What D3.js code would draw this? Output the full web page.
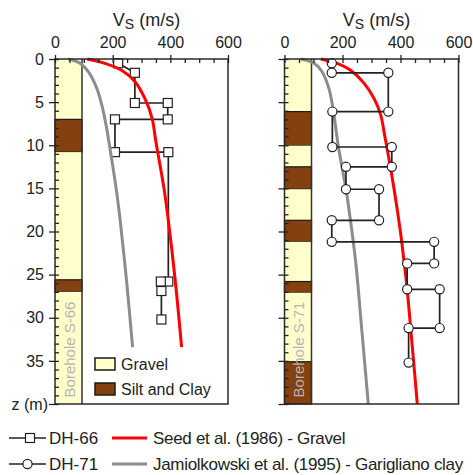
<!DOCTYPE html>
<html>
<head>
<meta charset="utf-8">
<script src="https://cdn.jsdelivr.net/npm/d3@7/dist/d3.min.js"></script>
<style>
  html, body { margin: 0; padding: 0; background: #fff; }
  svg { display: block; font-family: "Liberation Sans", Arial, sans-serif; }
</style>
</head>
<body>
<svg id="chart" width="473" height="475"></svg>
<script>
// Shear-wave velocity axis (m/s) and depth axis (m)
const vsTicks = [0, 200, 400, 600];
const vsMinorTicks = d3.range(0, 601, 50);
const zTicks = [0, 5, 10, 15, 20, 25, 30, 35, 40];
const zMinorTicks = d3.range(0, 41, 1);
const zLabelAtBottom = "z (m)";

// Down-hole profile DH-66: [Vs, z]
const dh66 = [[219, 0.5], [277, 1.6], [277, 5.1], [391, 5.1], [391, 7.0], [208, 7.0],
              [208, 10.8], [393, 10.8], [393, 25.8], [367, 25.8], [369, 26.9], [369, 30.2]];

// Down-hole profile DH-71: [Vs, z]
const dh71 = [[163, 0.5], [163, 1.6], [358, 1.6], [358, 6.1], [165, 6.1], [165, 10.2],
              [370, 10.2], [370, 12.5], [212, 12.5], [212, 15.1], [326, 15.1], [326, 18.7],
              [163, 18.7], [163, 21.2], [516, 21.2], [516, 23.7], [423, 23.7], [423, 26.7],
              [535, 26.7], [535, 31.2], [428, 31.2], [428, 35.2]];

// Seed et al. (1986) gravel curve, as drawn next to each borehole: [Vs, z]
const seedGravel66 = [[112, 0], [173, 0.5], [231, 1.3], [277, 2.6], [312, 4.6], [337, 6.9],
                      [349, 9.4], [378, 15], [393, 18.7], [418, 26], [439, 33.4]];
const seedGravel71 = [[125, 0], [182, 0.5], [228, 1.3], [274, 2.8], [309, 4.6], [332, 6.5],
                      [345, 8.8], [353, 10.2], [378, 15.1], [400, 20.1], [413, 23.7],
                      [423, 26.7], [435, 31.2], [458, 40]];

// Jamiolkowski et al. (1995) Garigliano clay curve: [Vs, z]
const jamClay66 = [[46, 0], [87, 0.5], [116, 1.5], [145, 3.4], [162, 5.3], [179, 8.0],
                   [186, 9.4], [212, 15], [226, 18.7], [249, 26], [269, 33.4]];
const jamClay71 = [[56, 0], [102, 0.5], [130, 1.5], [153, 3.4], [165, 5.3], [174, 7.3],
                   [186, 10.2], [212, 15.1], [233, 20.1], [247, 24], [266, 31.2], [289, 40]];

// Borehole logs: [top z, bottom z, soil]
const logS66 = [[0, 7.0, "Gravel"], [7.0, 10.8, "Silt and Clay"], [10.8, 25.6, "Gravel"],
                [25.6, 27.0, "Silt and Clay"], [27.0, 40, "Gravel"]];
const logS71 = [[0, 6.1, "Gravel"], [6.1, 10.05, "Silt and Clay"], [10.05, 12.5, "Gravel"],
                [12.5, 15.1, "Silt and Clay"], [15.1, 18.7, "Gravel"], [18.7, 21.2, "Silt and Clay"],
                [21.2, 25.8, "Gravel"], [25.8, 27.1, "Silt and Clay"], [27.1, 35.1, "Gravel"],
                [35.1, 40, "Silt and Clay"]];

const soilTypes = ["Gravel", "Silt and Clay"];
const soilColors = ["#FFFFCC", "#85400F"];
const soilColor = d3.scaleOrdinal(soilTypes, soilColors);

const svg = d3.select("#chart");
const ink = "#222";
const y = d3.scaleLinear([0, 40], [59, 404]);

const panels = [
  { left: 55, right: 228, log: logS66, name: "Borehole S-66", profile: dh66, marker: "square",
    seed: seedGravel66, jam: jamClay66, zLabels: true, curvesOnTop: true, legend: true },
  { left: 284.5, right: 458.5, log: logS71, name: "Borehole S-71", profile: dh71, marker: "circle",
    seed: seedGravel71, jam: jamClay71, zLabels: false, curvesOnTop: false, legend: false }
];

const colWidth = 27;

function drawMarker(sel, kind, cx, cy) {
  if (kind === "square") {
    sel.append("rect").attr("x", cx - 4.5).attr("y", cy - 4.5).attr("width", 9).attr("height", 9)
      .attr("fill", "#fff").attr("stroke", ink).attr("stroke-width", 1.2);
  } else {
    sel.append("circle").attr("cx", cx).attr("cy", cy).attr("r", 4.6)
      .attr("fill", "#fff").attr("stroke", ink).attr("stroke-width", 1.2);
  }
}

panels.forEach(p => {
  const x = d3.scaleLinear([0, 600], [p.left, p.right]);
  const g = svg.append("g");

  // soil column
  const col = g.append("g");
  col.selectAll("rect").data(p.log).join("rect")
    .attr("x", p.left).attr("width", colWidth)
    .attr("y", d => y(d[0])).attr("height", d => y(d[1]) - y(d[0]))
    .attr("fill", d => soilColor(d[2]))
    .attr("stroke", d => d[2] === "Gravel" ? "none" : "#1a1a1a")
    .attr("stroke-width", 1.2);
  col.append("line").attr("x1", p.left + colWidth).attr("x2", p.left + colWidth)
    .attr("y1", y(0)).attr("y2", y(40)).attr("stroke", "#333").attr("stroke-width", 1.5);
  const cx = p.left + colWidth / 2 + 1, cy = y(0) + (y(40) - y(0)) * 0.842;
  col.append("text").attr("transform", `translate(${cx},${cy}) rotate(-90)`)
    .attr("text-anchor", "middle").attr("dy", "0.35em")
    .attr("font-size", 15).attr("fill", "#b4b4b4").text(p.name);

  const line = d3.line().x(d => x(d[0])).y(d => y(d[1]));
  const curve = d3.line().x(d => x(d[0])).y(d => y(d[1])).curve(d3.curveCatmullRom.alpha(0.5));

  function drawCurves() {
    g.append("path").attr("d", curve(p.jam)).attr("fill", "none")
      .attr("stroke", "#8c8c8c").attr("stroke-width", 3);
    g.append("path").attr("d", curve(p.seed)).attr("fill", "none")
      .attr("stroke", "#ff0000").attr("stroke-width", 3);
  }
  function drawProfile() {
    g.append("path").attr("d", line(p.profile)).attr("fill", "none")
      .attr("stroke", ink).attr("stroke-width", 1.7);
    const m = g.append("g");
    p.profile.forEach(d => drawMarker(m, p.marker, x(d[0]), y(d[1])));
  }
  if (p.curvesOnTop) { drawProfile(); drawCurves(); } else { drawCurves(); drawProfile(); }

  // frame
  g.append("rect").attr("x", p.left).attr("y", y(0))
    .attr("width", p.right - p.left).attr("height", y(40) - y(0))
    .attr("fill", "none").attr("stroke", "#2a2a2a").attr("stroke-width", 1.5);

  // top axis: major ticks outward with labels, minor ticks inward
  const topMajor = g.append("g").attr("transform", `translate(0,${y(0)})`)
    .call(d3.axisTop(x).tickValues(vsTicks).tickSize(4).tickPadding(7.5).tickFormat(d3.format("d")));
  const topMinor = g.append("g").attr("transform", `translate(0,${y(0)})`)
    .call(d3.axisBottom(x).tickValues(vsMinorTicks).tickSize(4).tickFormat(""));
  [topMajor, topMinor].forEach(a => {
    a.select(".domain").remove();
    a.selectAll("line").attr("stroke", ink).attr("stroke-width", 1.3);
  });
  topMajor.selectAll("text").attr("font-size", 16).attr("fill", ink)
    .attr("font-family", "Liberation Sans, Arial, sans-serif");

  // left depth axis: major ticks outward, minor ticks inward
  const leftMajor = g.append("g").attr("transform", `translate(${p.left},0)`)
    .call(d3.axisLeft(y).tickValues(zTicks).tickSize(6).tickPadding(5)
      .tickFormat(d => p.zLabels ? (d === 40 ? zLabelAtBottom : d) : ""));
  const leftMinor = g.append("g").attr("transform", `translate(${p.left},0)`)
    .call(d3.axisRight(y).tickValues(zMinorTicks).tickSize(4).tickFormat(""));
  [leftMajor, leftMinor].forEach(a => {
    a.select(".domain").remove();
    a.selectAll("line").attr("stroke", ink).attr("stroke-width", 1.3);
  });
  leftMajor.selectAll("text").attr("font-size", 16).attr("fill", ink)
    .attr("font-family", "Liberation Sans, Arial, sans-serif")
    .filter(d => d === 40).attr("x", -7);

  // axis title
  const t = g.append("text").attr("x", (p.left + p.right) / 2 + 5).attr("y", 26)
    .attr("text-anchor", "middle").attr("fill", ink).attr("font-size", 18);
  t.append("tspan").text("V");
  t.append("tspan").attr("font-size", 14).attr("dy", 3).text("S");
  t.append("tspan").attr("dy", -3).text(" (m/s)");

  // soil legend
  if (p.legend) {
    const lg = g.append("g");
    soilTypes.forEach((s, i) => {
      const yy = 358 + i * 25;
      lg.append("rect").attr("x", 95).attr("y", yy).attr("width", 20).attr("height", 12)
        .attr("fill", soilColor(s)).attr("stroke", "#1a1a1a").attr("stroke-width", 1.5);
      lg.append("text").attr("x", 121).attr("y", yy + 12).attr("font-size", 16)
        .attr("fill", ink).text(s);
    });
  }
});

// series legend below the panels
const seriesLegend = [
  { label: "DH-66", kind: "square", row: 0 },
  { label: "DH-71", kind: "circle", row: 1 }
];
const curveLegend = [
  { label: "Seed et al. (1986) - Gravel", color: "#ff0000", row: 0 },
  { label: "Jamiolkowski et al. (1995) - Garigliano clay", color: "#8c8c8c", row: 1 }
];
const legendRowY = [438, 464];
const lg = svg.append("g");
seriesLegend.forEach(s => {
  const yy = legendRowY[s.row];
  lg.append("line").attr("x1", 9).attr("x2", 46).attr("y1", yy).attr("y2", yy)
    .attr("stroke", ink).attr("stroke-width", 1.6);
  drawMarker(lg, s.kind, s.kind === "square" ? 30 : 27.5, yy);
  lg.append("text").attr("x", 49).attr("y", yy + 6).attr("font-size", 17)
    .attr("fill", ink).text(s.label);
});
curveLegend.forEach(c => {
  const yy = legendRowY[c.row];
  lg.append("line").attr("x1", 112).attr("x2", 147).attr("y1", yy).attr("y2", yy)
    .attr("stroke", c.color).attr("stroke-width", 3.2);
  lg.append("text").attr("x", 153).attr("y", yy + 6).attr("font-size", 17)
    .attr("letter-spacing", -0.3).attr("fill", ink).text(c.label);
});
</script>
</body>
</html>
